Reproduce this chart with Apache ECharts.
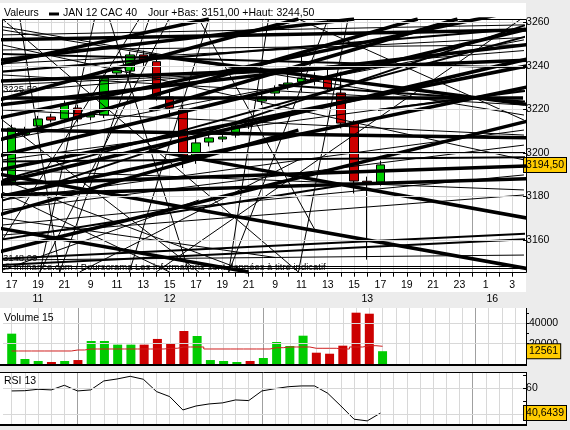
<!DOCTYPE html>
<html><head><meta charset="utf-8">
<script src="https://cdn.jsdelivr.net/npm/echarts@6/dist/echarts.min.js"></script>
<style>html,body{margin:0;padding:0;background:#ececec;}#c{width:570px;height:430px;}</style>
</head><body><div id="c"></div>
<script>
// ---------- DATA ----------
const hours = [17,18,19,20,21, 8,9,10,11,12,13,14,15,16,17,18,19,20,21, 8,9,10,11,12,13,14,15,16,17,18,19,20,21,22,23,0,1,2,3];
const dayLabels = ['11','12','13','16'];
const dayLabelPos = [2, 12, 27, 36.5];
// [open, close, low, high]
const candles = [
 [3186.6,3211.4,3185.0,3213.0],[3208.5,3210.0,3207.0,3212.0],[3212.4,3215.6,3211.0,3217.0],[3216.5,3215.1,3214.0,3218.0],
 [3215.6,3222.5,3214.5,3224.0],[3220.6,3215.6,3214.0,3222.0],[3216.5,3217.4,3215.0,3219.0],[3217.4,3234.4,3216.0,3236.0],
 [3236.7,3238.1,3235.5,3239.5],[3237.6,3245.0,3236.0,3246.5],[3245.0,3241.8,3240.0,3247.0],[3241.9,3226.2,3224.0,3243.0],
 [3225.7,3220.6,3216.6,3229.0],[3220.2,3198.1,3193.1,3221.5],[3197.7,3204.6,3195.0,3208.2],[3205.0,3206.9,3203.0,3208.5],
 [3206.4,3207.3,3205.0,3209.0],[3208.2,3212.4,3207.0,3214.0],[3213.5,3212.5,3211.0,3215.0],[3223.8,3225.7,3222.0,3227.0],
 [3227.5,3229.4,3226.0,3231.0],[3231.2,3232.1,3229.0,3237.3],[3232.6,3234.4,3228.0,3244.5],[3234.5,3233.5,3231.0,3237.0],
 [3234.0,3229.4,3228.0,3238.9],[3227.5,3213.7,3211.3,3237.3],[3213.7,3187.1,3181.4,3215.0],[3187.0,3186.5,3151.0,3189.1],
 [3186.6,3194.5,3185.0,3196.4]
];
const volumes = [29800,4900,2950,1970,2950,3900,22600,22600,19000,19000,19000,24600,20600,32400,27500,3900,2950,1970,2950,5900,21600,17700,27800,11100,10100,18000,50400,49400,12561];
const volumeMA = [12780,12780,12780,12780,12780,13760,14740,14740,14740,14740,14740,14740,15430,16710,16710,14740,14740,14740,14740,14740,16020,16710,16710,15430,15430,14740,16710,18000,17400];
const rsi = [57.9,58.1,59.2,58.7,62.3,57.9,58.7,65.7,67.2,69.3,67.0,57.4,53.5,43.1,46.2,47.8,48.6,50.9,50.4,57.9,59.7,61.2,61.8,61.8,56.1,46.2,35.9,34.6,40.6439];
const priceTicks = [3160,3180,3200,3220,3240,3260];
const volTicks = [10000,20000,30000,40000,50000];
const volLabels = [20000,40000];
const rsiTicks = [40,50,60,70];
const rsiLabels = [60];
const rsiGridVals = [40,60];
const levels = [3148, 3225.5];
const levelLabels = ['3148,00','3225,50'];
// trend lines: [index1, price1, index2, price2]
const thickLines = [
 [-1,3233.0,39.5,3242.7],[-1,3210.5,39.5,3206.9],[-1,3190.3,39.5,3146.5],[10.44,3201.4,39.5,3169.7],
 [-1,3186.2,39.5,3243.6],[-1,3179.8,39.5,3230.7],[-1,3198.6,39.5,3257.4],[-1,3216.0,39.5,3266.6],
 [-1,3242.5,26.0,3261.5],[-1,3154.5,39.5,3215.1],[-1,3180.7,39.5,3188.2],[-1,3185.7,39.5,3194.1],
 [-1,3222.0,39.5,3250.0],[-1,3240.8,14.97,3261.5],[-1,3192.2,39.5,3240.4],[10.44,3245.0,39.5,3222.0],
 [-1,3251.9,39.5,3256.5],[-1,3224.3,21.77,3261.5],[10.44,3219.7,33.85,3261.5],[-1,3205.9,30.83,3261.5],
 [-1,3165.5,17.99,3145.3],[-1,3171.5,21.77,3210.5]
];
const mediumLines = [
 [-1,3177.5,39.5,3259.7],[-1,3187.1,39.5,3254.2],[-1,3237.2,39.5,3257.4],[-1,3151.3,39.5,3163.0],
 [-1,3148.5,39.5,3160.5],[20.26,3231.2,39.5,3223.4],[27.81,3219.7,39.5,3228.9],[-1,3196.0,39.5,3198.0],
 [-1,3160.0,25.0,3185.0],[-1,3245.5,39.5,3239.0]
];
const thinLines = [
 [-1,3200.2,39.5,3200.2],[10.97,3145.3,38.68,3261.5],[0.63,3261.5,3.65,3145.3],[6.29,3261.5,2.14,3145.3],
 [8.93,3145.3,14.97,3261.5],[13.46,3145.3,7.42,3261.5],[3.65,3145.3,10.44,3261.5],[-0.7,3178.4,38.9,3210.5],
 [-0.7,3205.9,38.9,3251.9],[-0.7,3166.9,38.9,3189.9],[-0.7,3150.8,38.9,3153.1],
 [-1,3147.0,39.5,3147.0],[-0.7,3256.5,38.9,3217.4],[-0.7,3249.6,38.9,3196.8],[-0.7,3261.5,21.77,3145.3],
 [-0.7,3187.6,17.99,3145.3],[-0.7,3215.1,14.22,3145.3],[-0.7,3231.2,38.9,3242.7],[-0.7,3254.2,38.9,3258.8],
 [-0.7,3247.3,38.9,3249.6],[14.22,3261.5,23.03,3164.6],[19.50,3261.5,16.48,3145.3],[25.54,3261.5,21.77,3145.3],
 [-0.7,3196.8,38.9,3228.9],[-0.7,3173.8,38.9,3203.6],[-0.7,3162.3,38.9,3180.7],[-0.7,3192.2,38.9,3183.0],
 [-0.7,3219.7,38.9,3208.2],[21.77,3261.5,38.9,3215.1],[-0.7,3146.2,14.22,3178.4],[5.16,3145.3,21.77,3196.8],
 [-0.7,3160.0,9.69,3261.5],[2.14,3145.3,11.95,3261.5],[16.48,3145.3,24.03,3261.5],
 [-0.7,3235.8,38.9,3222.0],[-0.7,3241.0,38.9,3253.0],[-0.7,3228.0,38.9,3247.0],[-0.7,3258.0,20.0,3236.0],
 [-0.7,3182.0,12.0,3145.3],[-0.7,3170.0,20.0,3152.0]
];

// ---------- CHART ----------
const F = 'Liberation Sans, Arial, sans-serif';
const FS = 10.5;
const XMIN = -0.657, XMAX = 38.83;
const idx = hours.map((_, i) => i);
const labelIdx = idx.filter(i => i % 2 === 0);
const dayStarts = idx.filter(i => i > 0 && hours[i] < hours[i - 1]);
const GREEN = '#00cc00', RED = '#cc0000';
const GRID_C = '#d8d8d8', SEP_C = '#a0a0a0';
const isUp = c => c[1] >= c[0];
const last = candles.length - 1;
const day13 = candles.slice(dayStarts[1]);
const dayLow = Math.min(...day13.map(c => c[2]));
const dayHigh = Math.max(...day13.map(c => c[3]));
const fmt2 = v => v.toFixed(2).replace('.', ',');
const vColors = idx.map(i => dayStarts.includes(i) ? SEP_C : GRID_C);

function hGridSeries(xi, yi, vals) {
  const data = vals.map(v => ({yAxis: v, lineStyle: {color: GRID_C, width: 1, type: 'solid'}}));
  return {type: 'line', xAxisIndex: xi, yAxisIndex: yi, data: [], z: 1, silent: true, symbol: 'none',
    markLine: {silent: true, symbol: ['none', 'none'], label: {show: false}, emphasis: {disabled: true}, animation: false, data}};
}
function linesSeries(arr, w) {
  return {type: 'lines', coordinateSystem: 'cartesian2d', xAxisIndex: 0, yAxisIndex: 0, z: 3, silent: true, clip: true,
    lineStyle: {color: '#000', width: w, opacity: 1},
    data: arr.map(l => ({coords: [[l[0], l[1]], [l[2], l[3]]]}))};
}
const noLine = {show: false, onZero: false};
function subX(gi) {
  return {type: 'value', gridIndex: gi, min: XMIN, max: XMAX, axisLine: noLine, axisLabel: {show: false},
    axisTick: {show: false, customValues: idx},
    splitLine: {show: true, lineStyle: {color: vColors, width: 1}}};
}
const boxLabel = {backgroundColor: '#ffcc00', borderColor: '#000', borderWidth: 1, padding: [2, 2, 1, 2], color: '#000', fontSize: FS, fontFamily: F, margin: 1};
const hidden = {axisLine: noLine, axisTick: {show: false}, splitLine: {show: false}};
const plain = v => String(v);
function yAx(gi, min, max, ticks, labels) {
  return {type: 'value', gridIndex: gi, position: 'right', min, max, axisLine: noLine, splitLine: {show: false},
    axisTick: {show: true, customValues: ticks, length: 3, lineStyle: {color: '#000'}},
    axisLabel: {customValues: labels, formatter: plain, margin: 3, color: '#000', fontSize: FS, fontFamily: F}};
}
function yBox(gi, min, max, val, f) {
  return {type: 'value', gridIndex: gi, position: 'right', min, max, ...hidden,
    axisLabel: {customValues: [val], formatter: f, ...boxLabel}};
}

const chart = echarts.init(document.getElementById('c'), null, {renderer: 'canvas'});
chart.setOption({
  animation: false,
  backgroundColor: '#ececec',
  textStyle: {fontFamily: F, fontSize: FS, color: '#000'},
  grid: [
    {left: 3, right: 44, top: 19, height: 253.7},
    {left: 3, right: 44, top: 308, height: 56},
    {left: 3, right: 44, top: 372.7, height: 52.3}
  ],
  xAxis: [
    {type: 'value', gridIndex: 0, min: XMIN, max: XMAX, position: 'bottom',
      axisLine: noLine,
      axisTick: {show: true, customValues: idx, length: 4, lineStyle: {color: '#000'}},
      splitLine: {show: true, lineStyle: {color: vColors, width: 1}},
      axisLabel: {customValues: labelIdx, formatter: v => String(hours[Math.round(v)]), margin: 7, color: '#000', fontSize: FS, fontFamily: F}},
    {type: 'value', gridIndex: 0, min: XMIN, max: XMAX, position: 'bottom', offset: 14, ...hidden,
      axisLabel: {customValues: dayLabelPos, formatter: v => { let k = 0; dayLabelPos.forEach((p, j) => { if (Math.abs(p - v) < Math.abs(dayLabelPos[k] - v)) k = j; }); return dayLabels[k]; }, margin: 7, color: '#000', fontSize: FS, fontFamily: F}},
    subX(1),
    subX(2)
  ],
  yAxis: [
    yAx(0, 3145, 3261.5, priceTicks, priceTicks),
    yBox(0, 3145, 3261.5, candles[last][1], fmt2),
    yAx(1, 0, 55000, volTicks, volLabels),
    yBox(1, 0, 55000, volumes[last], plain),
    yAx(2, 31.4, 72.1, rsiTicks, rsiLabels),
    yBox(2, 31.4, 72.1, rsi[last], v => v.toFixed(4).replace('.', ','))
  ],
  graphic: [
    {type: 'rect', z: 0, silent: true, shape: {x: 0, y: 3, width: 526, height: 289}, style: {fill: '#fff'}},
    {type: 'rect', z: 0, silent: true, shape: {x: 0, y: 308, width: 526, height: 57}, style: {fill: '#fff'}},
    {type: 'rect', z: 0, silent: true, shape: {x: 0, y: 372, width: 526, height: 53}, style: {fill: '#fff'}},
    {type: 'text', z: 100, silent: true, style: {x: 4, y: 13.5, text: 'Valeurs', fill: '#000', font: FS + 'px ' + F, verticalAlign: 'middle'}},
    {type: 'rect', z: 100, silent: true, shape: {x: 49, y: 12.5, width: 10, height: 3}, style: {fill: '#000'}},
    {type: 'text', z: 100, silent: true, style: {x: 63, y: 13.5, text: 'JAN 12 CAC 40', fill: '#000', font: FS + 'px ' + F, verticalAlign: 'middle'}},
    {type: 'text', z: 100, silent: true, style: {x: 148, y: 13.5, text: 'Jour +Bas: ' + fmt2(dayLow) + ' +Haut: ' + fmt2(dayHigh), fill: '#000', font: FS + 'px ' + F, verticalAlign: 'middle'}},
    {type: 'text', z: 2.5, silent: true, style: {x: 4, y: 267.5, text: '© Infinance.com / Boursorama Les informations sont données à titre indicatif', fill: '#000', font: '9.5px ' + F, verticalAlign: 'middle'}},
    {type: 'text', z: 100, silent: true, style: {x: 4, y: 318.5, text: 'Volume 15', fill: '#000', font: FS + 'px ' + F, verticalAlign: 'middle'}},
    {type: 'text', z: 100, silent: true, style: {x: 4, y: 381.5, text: 'RSI 13', fill: '#000', font: FS + 'px ' + F, verticalAlign: 'middle'}},
    {type: 'rect', z: 100, silent: true, shape: {x: 2.5, y: 19.5, width: 524, height: 253}, style: {fill: 'none', stroke: '#000', lineWidth: 1}},
    {type: 'line', z: 100, silent: true, shape: {x1: 0, y1: 365, x2: 527, y2: 365}, style: {stroke: '#000', lineWidth: 2}},
    {type: 'line', z: 100, silent: true, shape: {x1: 526.5, y1: 308, x2: 526.5, y2: 366}, style: {stroke: '#000', lineWidth: 1}},
    {type: 'line', z: 100, silent: true, shape: {x1: 0, y1: 372.5, x2: 527, y2: 372.5}, style: {stroke: '#000', lineWidth: 1}},
    {type: 'line', z: 100, silent: true, shape: {x1: 0, y1: 425, x2: 527, y2: 425}, style: {stroke: '#000', lineWidth: 2}},
    {type: 'line', z: 100, silent: true, shape: {x1: 526.5, y1: 372, x2: 526.5, y2: 426}, style: {stroke: '#000', lineWidth: 1}}
  ],
  series: [
    hGridSeries(0, 0, priceTicks),
    hGridSeries(2, 2, volLabels),
    hGridSeries(3, 4, rsiGridVals),
    {type: 'candlestick', xAxisIndex: 0, yAxisIndex: 0, z: 2, silent: true, barWidth: 9,
      data: candles.map((c, i) => [i, c[0], c[1], c[2], c[3]]), encode: {x: 0, y: [1, 2, 3, 4]},
      itemStyle: {color: GREEN, color0: RED, borderColor: '#000', borderColor0: '#000', borderWidth: 1}},
    linesSeries(thinLines, 1),
    linesSeries(mediumLines, 2),
    linesSeries(thickLines, 3.5),
    {type: 'line', xAxisIndex: 0, yAxisIndex: 0, data: [], z: 3, silent: true, symbol: 'none',
      markLine: {silent: true, symbol: ['none', 'none'], animation: false,
        data: levels.map((v, k) => ({yAxis: v, lineStyle: {color: '#000', width: k === 0 ? 1 : 3.5, type: 'solid'},
          label: {show: true, position: 'insideStartTop', formatter: levelLabels[k], color: '#000', fontSize: 9.5, fontFamily: F, distance: [0, 3]}}))}},
    {type: 'bar', xAxisIndex: 2, yAxisIndex: 2, z: 2, silent: true, barWidth: 9,
      data: volumes.map((v, i) => ({value: [i, v], itemStyle: {color: isUp(candles[i]) ? GREEN : RED}}))},
    {type: 'line', xAxisIndex: 2, yAxisIndex: 2, z: 3, silent: true, step: 'middle', symbol: 'none',
      lineStyle: {color: '#d02020', width: 1}, data: volumeMA.map((v, i) => [i, v])},
    {type: 'line', xAxisIndex: 3, yAxisIndex: 4, z: 3, silent: true, symbol: 'none',
      lineStyle: {color: '#000', width: 1}, data: rsi.map((v, i) => [i, v])}
  ]
});
</script></body></html>
